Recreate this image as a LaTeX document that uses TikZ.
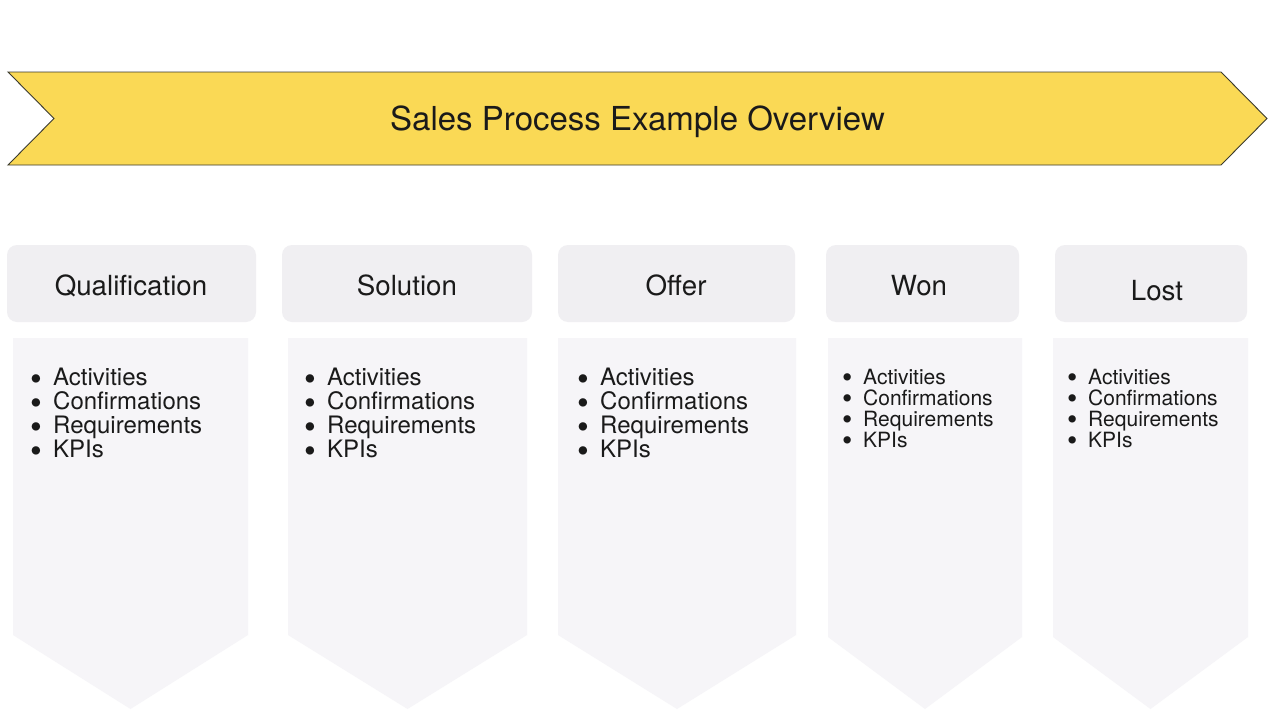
\documentclass[tikz,border=0pt]{standalone}
\usepackage{fontspec}
\usepackage{graphicx}
\setmainfont{TeX Gyre Heros}
\definecolor{banner}{HTML}{FAD955}
\definecolor{bannerline}{HTML}{3A3A2E}
\definecolor{hdrfill}{HTML}{F0EFF2}
\definecolor{panelfill}{HTML}{F6F5F8}
\definecolor{ink}{HTML}{1A1A1A}
\newcommand{\bigbul}{\makebox[23pt][l]{\raisebox{-4.4pt}{\scalebox{1.4}{•}}}}
\newcommand{\smallbul}{\makebox[21pt][l]{\raisebox{-3.2pt}{\scalebox{1.4}{•}}}}
\newcommand{\biglist}{\rule{0pt}{17.5pt}\bigbul Activities\\ \bigbul Confirmations\\ \bigbul Requirements\\ \bigbul KPIs}
\newcommand{\smalllist}{\rule{0pt}{15.5pt}\smallbul Activities\\ \smallbul Confirmations\\ \smallbul Requirements\\ \smallbul KPIs}
\begin{document}
\begin{tikzpicture}[x=1pt,y=-1pt,
  hdr/.style={fill=hdrfill, rounded corners=10pt, minimum height=77pt, inner sep=0pt},
  hdrtext/.style={anchor=base, inner sep=0pt,
    font=\fontsize{27.7}{30}\selectfont, text=ink},
  panel/.style={fill=panelfill},
  biglistnode/.style={anchor=north west, inner sep=0pt, align=left,
    font=\fontsize{24}{24}\selectfont, text=ink},
  smalllistnode/.style={anchor=north west, inner sep=0pt, align=left,
    font=\fontsize{21}{21}\selectfont, text=ink},
  titletext/.style={anchor=base, inner sep=0pt,
    font=\fontsize{33}{36}\selectfont, text=ink}]
\useasboundingbox (0,0) rectangle (1280,720);
\fill[white] (0,0) rectangle (1280,720);
% banner
\draw[fill=banner, draw=bannerline, line width=0.9pt, line join=miter]
  (8,72) -- (1221,72) -- (1267,118.5) -- (1221,165) -- (8,165) -- (54,118.5) -- cycle;
\node[titletext] (title) at (637.5,130.5) {Sales Process Example Overview};
% headers
\node[hdr, minimum width=249pt] (h1) at (131.5,283.5) {};
\node[hdr, minimum width=250pt] (h2) at (407,283.5) {};
\node[hdr, minimum width=237pt] (h3) at (676.5,283.5) {};
\node[hdr, minimum width=193pt] (h4) at (922.5,283.5) {};
\node[hdr, minimum width=192pt] (h5) at (1151,283.5) {};
\node[hdrtext] (t1) at (131,295) {Qualification};
\node[hdrtext] (t2) at (407,295) {Solution};
\node[hdrtext] (t3) at (676,295) {Offer};
\node[hdrtext] (t4) at (919,295) {Won};
\node[hdrtext] (t5) at (1157,300) {Lost};
% panels
\fill[panel] (13,338) -- (248,338) -- (248,635) -- (130.5,709) -- (13,635) -- cycle;
\fill[panel] (288,338) -- (527,338) -- (527,635) -- (407.5,709) -- (288,635) -- cycle;
\fill[panel] (558,338) -- (796,338) -- (796,635) -- (677,709) -- (558,635) -- cycle;
\fill[panel] (828,338) -- (1022,338) -- (1022,637) -- (925,709) -- (828,637) -- cycle;
\fill[panel] (1053,338) -- (1248,338) -- (1248,637) -- (1150.5,709) -- (1053,637) -- cycle;
% bullet lists
\node[biglistnode] (l1) at (30,368) {\biglist};
\node[biglistnode] (l2) at (304,368) {\biglist};
\node[biglistnode] (l3) at (577,368) {\biglist};
\node[smalllistnode] (l4) at (842,368.5) {\smalllist};
\node[smalllistnode] (l5) at (1067,368.5) {\smalllist};
\end{tikzpicture}
\end{document}
